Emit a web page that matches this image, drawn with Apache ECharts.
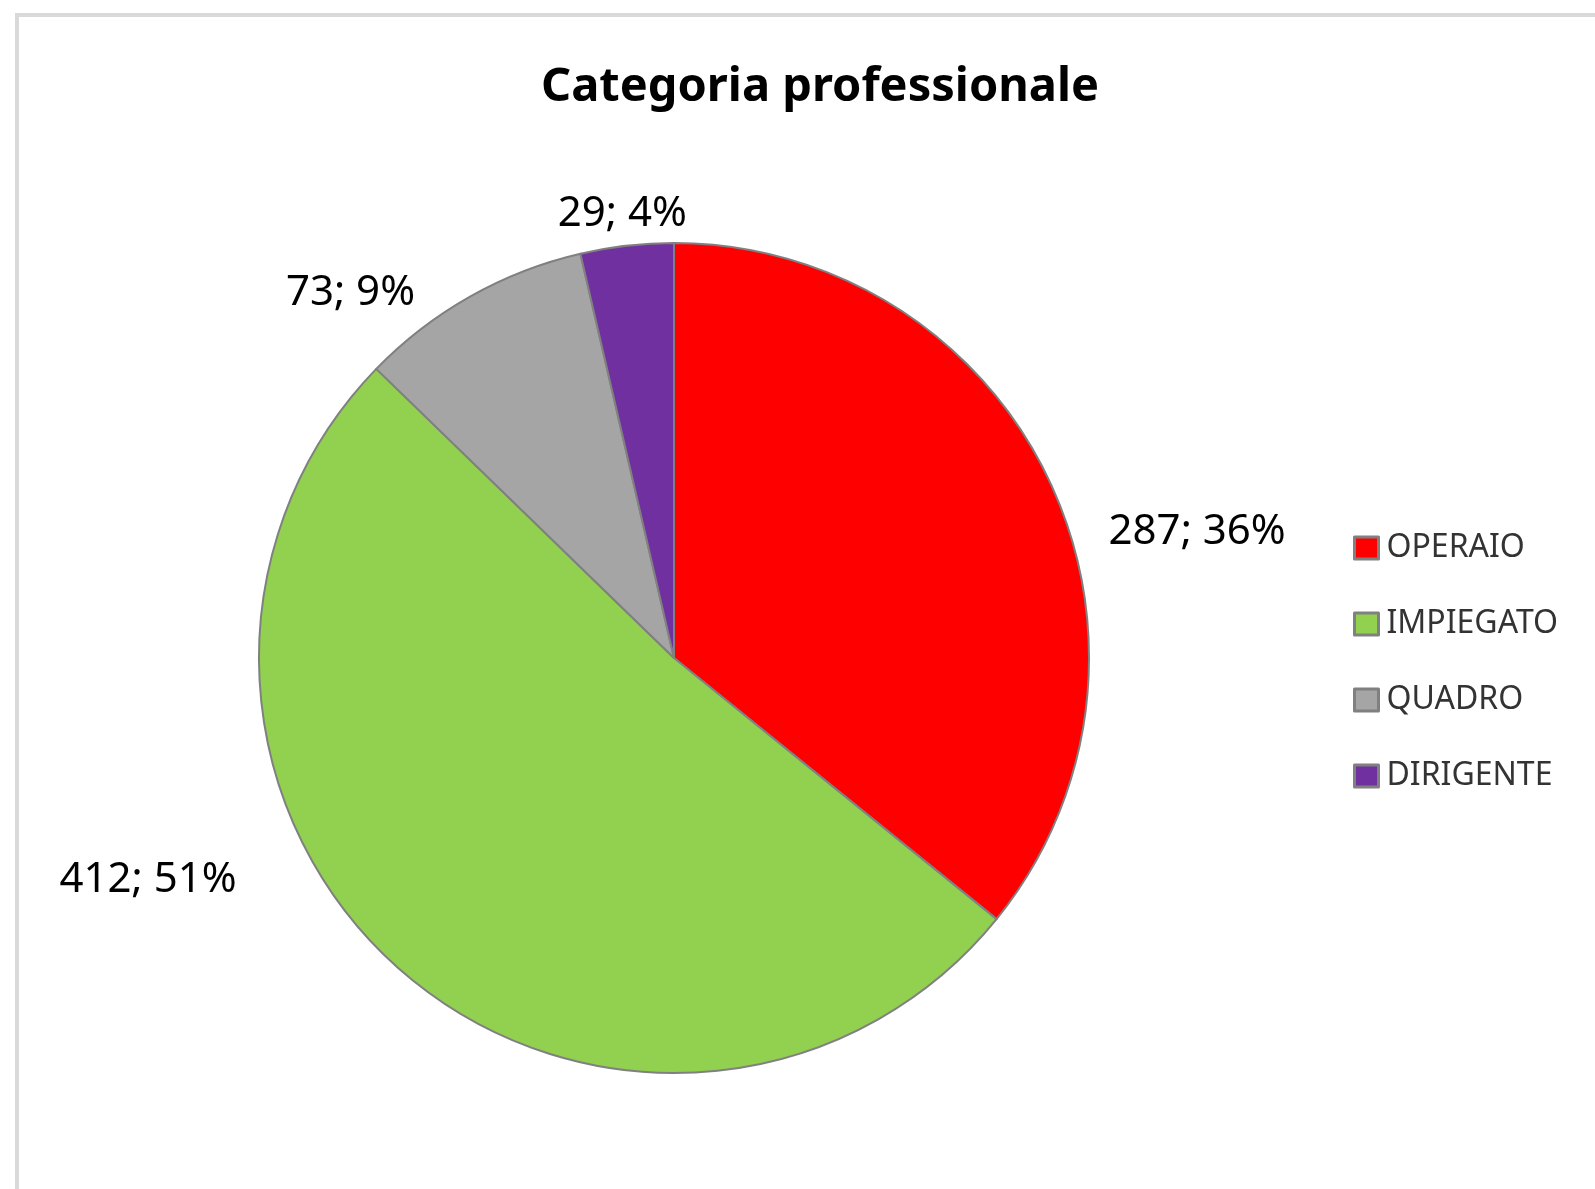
<!DOCTYPE html>
<html>
<head>
<meta charset="utf-8">
<script src="https://cdn.jsdelivr.net/npm/echarts@6/dist/echarts.min.js"></script>
<style>
html,body{margin:0;padding:0;background:#fff;}
#chart{width:1595px;height:1189px;}
</style>
</head>
<body>
<div id="chart"></div>
<script>
var categories = ['OPERAIO', 'IMPIEGATO', 'QUADRO', 'DIRIGENTE'];
var values = [287, 412, 73, 29];
var colors = ['#FF0000', '#92D050', '#A5A5A5', '#7030A0'];
var titleText = 'Categoria professionale';

// label nudges (pixels) relative to ECharts' outside label anchor
var labelNudge = [[60, 53], [-162, -88], [-55, -4], [60, -32]];

var FONT = 'Noto Sans';
var chart = echarts.init(document.getElementById('chart'));
chart.setOption({
  animation: false,
  backgroundColor: '#fff',
  graphic: [{
    type: 'rect',
    shape: { x: 17, y: 15, width: 1700, height: 1400 },
    style: { fill: 'none', stroke: '#d9d9d9', lineWidth: 4 },
    silent: true
  }],
  title: {
    text: titleText,
    left: 815,
    top: 59,
    textAlign: 'center',
    textStyle: { fontFamily: FONT, fontWeight: 'bold', fontSize: 47, color: '#000' }
  },
  legend: {
    orient: 'vertical',
    left: 1353,
    top: 532,
    padding: 0,
    itemWidth: 24,
    itemHeight: 22,
    itemGap: 44,
    icon: 'rect',
    itemStyle: { borderColor: '#808080', borderWidth: 3 },
    textStyle: { fontFamily: FONT, fontSize: 32, lineHeight: 32, color: '#333', padding: [0, 0, 0, 3] },
    data: categories
  },
  series: [{
    type: 'pie',
    center: [674, 658],
    radius: [0, 415],
    startAngle: 90,
    clockwise: true,
    avoidLabelOverlap: false,
    itemStyle: { borderColor: '#808080', borderWidth: 2 },
    label: {
      show: true,
      position: 'outside',
      distanceToLabelLine: 0,
      fontFamily: FONT,
      fontSize: 42,
      color: '#000',
      formatter: function (p) { return p.value + '; ' + Math.round(p.percent) + '%'; }
    },
    labelLine: { show: false, length: 0, length2: 0 },
    emphasis: { disabled: true },
    labelLayout: function (p) {
      var n = labelNudge[p.dataIndex];
      return { dx: n[0], dy: n[1] };
    },
    data: categories.map(function (c, i) {
      return { name: c, value: values[i], itemStyle: { color: colors[i] } };
    })
  }]
});
</script>
</body>
</html>
